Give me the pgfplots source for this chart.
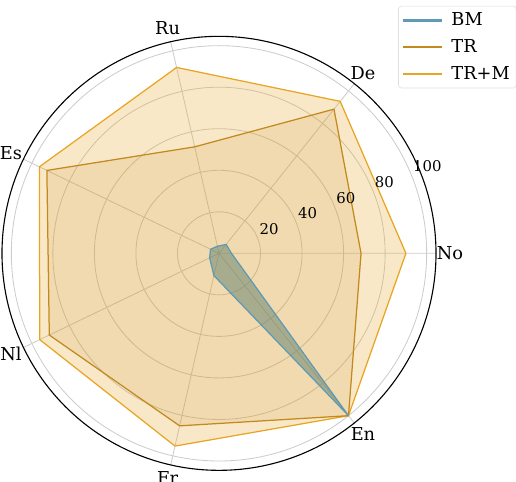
\documentclass[border=0pt]{standalone}
\usepackage{fontspec}
\setmainfont{DejaVu Serif}
\usepackage{pgfplots}
\usepgfplotslibrary{polar}
\pgfplotsset{compat=1.18}
\definecolor{bm}{HTML}{5E9AB5}
\definecolor{tr}{HTML}{C28A1E}
\definecolor{trm}{HTML}{E8A523}
\definecolor{bmfill}{RGB}{94,128,110}
\begin{document}
\begin{tikzpicture}
\begin{polaraxis}[
  scale only axis, width=312.5pt, height=312.5pt,
  ymin=0, ymax=104.5,
  xtick={0,51.4286,102.8571,154.2857,205.7143,257.1429,308.5714},
  xticklabels={},
  ytick={20,40,60,80,100},
  yticklabels={},
  grid=major,
  major grid style={gray!40, line width=0.6pt},
  major tick length=0pt,
  x axis line style={black, line width=0.8pt},
  y axis line style={draw=none},
  clip=false,
  legend cell align=left,
  legend style={at={(1.185,1.07)}, anchor=north east,
    draw=gray!25, rounded corners=2pt, fill=white,
    font=\fontsize{12.8}{14}\selectfont,
    row sep=4.6pt, inner xsep=2pt, inner ysep=2.6pt,
    nodes={inner xsep=2.5pt, inner ysep=2pt}},
  legend image code/.code={\draw[line width=2pt] (0pt,0pt) -- (28pt,0pt); \path (32.4pt,0pt);},
]
\coordinate (c) at (axis cs:0,0);
\addlegendimage{bm}
\addlegendentry{BM}
\addlegendimage{tr}
\addlegendentry{TR}
\addlegendimage{trm}
\addlegendentry{TR+M}

% TR+M
\addplot[forget plot, draw=trm, line width=0.9pt, fill=trm, fill opacity=0.25]
  coordinates {(0,90) (51.4286,93.6) (102.8571,91.8) (154.2857,96) (205.7143,95.8) (257.1429,95.2) (308.5714,100) (360,90)};
% TR
\addplot[forget plot, draw=tr, line width=0.9pt, fill=tr, fill opacity=0.15]
  coordinates {(0,68.4) (51.4286,88.8) (102.8571,52.6) (154.2857,92) (205.7143,90.7) (257.1429,85.2) (308.5714,100) (360,68.4)};
% BM
\addplot[forget plot, draw=bm, line width=0.9pt, fill=bmfill, fill opacity=0.5]
  coordinates {(0,6) (51.4286,5.5) (102.8571,3.5) (154.2857,4.5) (205.7143,5) (257.1429,11) (308.5714,100) (360,6)};

\begin{scope}[font=\fontsize{12.8}{14}\selectfont]
\node at (axis cs:0,111.2) {No};
\node at (axis cs:51.4286,111.2) {De};
\node at (axis cs:102.8571,111.2) {Ru};
\node at (axis cs:154.2857,111.2) {Es};
\node at (axis cs:205.7143,111.2) {Nl};
\node at (axis cs:257.1429,111.2) {Fr};
\node at (axis cs:308.5714,111.2) {En};
\end{scope}
\begin{scope}[font=\fontsize{10.7}{12}\selectfont]
\node[anchor=south west, inner sep=1.5pt] at (axis cs:22.5,20) {20};
\node[anchor=south west, inner sep=1.5pt] at (axis cs:22.5,40) {40};
\node[anchor=south west, inner sep=1.5pt] at (axis cs:22.5,60) {60};
\node[anchor=south west, inner sep=1.5pt] at (axis cs:22.5,80) {80};
\node[anchor=south west, inner sep=1.5pt] at (axis cs:22.5,100) {100};
\end{scope}
\end{polaraxis}
\pgfresetboundingbox
\path[use as bounding box] ([shift={(-157.68pt,-164.64pt)}]c) rectangle ([shift={(213.84pt,182.4pt)}]c);
\end{tikzpicture}
\end{document}
